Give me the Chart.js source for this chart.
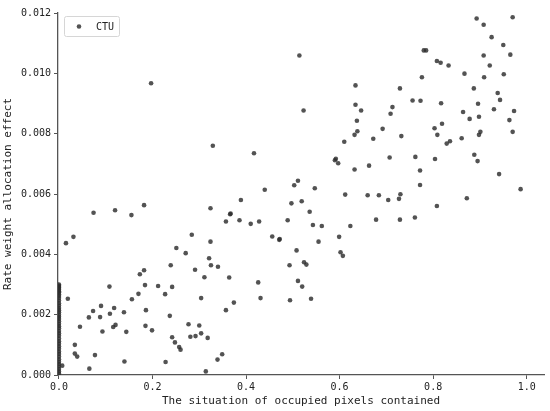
<!DOCTYPE html>
<html>
<head>
<meta charset="utf-8">
<script src="https://cdn.jsdelivr.net/npm/chart.js@4/dist/chart.umd.min.js"></script>
<style>
    html, body { margin: 0; padding: 0; background: #fff; }
    #wrap { width: 550px; height: 411px; }
</style>
</head>
<body>
<div id="wrap"><canvas id="scatterChart" width="550" height="411"></canvas></div>
<script>
// CTU points
// column of points sitting on x = 0
const zeroColumnY = [0.00300, 0.00296, 0.00292, 0.00288, 0.00283, 0.00278, 0.00274, 0.00268, 0.00262, 0.00255,
    0.00247, 0.00238, 0.00230, 0.00222, 0.00215, 0.00208, 0.00200, 0.00193, 0.00186, 0.00178,
    0.00170, 0.00162, 0.00155, 0.00146, 0.00138, 0.00130, 0.00121, 0.00112, 0.00104, 0.00095,
    0.00087, 0.00078, 0.00070, 0.00061, 0.00052, 0.00044, 0.00036, 0.00028, 0.00020, 0.00012, 0.00005]

const ctuX = [0.015, 0.019, 0.034, 0.034, 0.039, 0.045, 0.007, 0.065, 0.064, 0.073,
    0.077, 0.088, 0.090, 0.093, 0.108, 0.109, 0.116, 0.118, 0.121, 0.139,
    0.140, 0.144, 0.156, 0.170, 0.173, 0.182, 0.184, 0.186, 0.185, 0.199,
    0.212, 0.227, 0.228, 0.237, 0.239, 0.242, 0.242, 0.248, 0.251, 0.257,
    0.260, 0.271, 0.277, 0.281, 0.291, 0.292, 0.300, 0.304, 0.304, 0.311,
    0.314, 0.318, 0.321, 0.324, 0.325, 0.340, 0.339, 0.357, 0.364, 0.374,
    0.349, 0.426, 0.431, 0.471, 0.493, 0.494, 0.508, 0.511, 0.520, 0.524,
    0.529, 0.539, 0.555, 0.602, 0.607, 0.031, 0.074, 0.120, 0.155, 0.182,
    0.284, 0.324, 0.329, 0.523, 0.634, 0.646, 0.637, 0.638, 0.632, 0.672,
    0.610, 0.417, 0.592, 0.590, 0.597, 0.632, 0.663, 0.511, 0.503, 0.547,
    0.440, 0.612, 0.660, 0.684, 0.389, 0.519, 0.497, 0.536, 0.366, 0.367,
    0.357, 0.386, 0.410, 0.428, 0.489, 0.543, 0.562, 0.623, 0.678, 0.456,
    0.472, 0.599, 0.713, 0.709, 0.756, 0.773, 0.817, 0.896, 0.943, 0.864,
    0.930, 0.973, 0.878, 0.898, 0.963, 0.819, 0.803, 0.692, 0.809, 0.901,
    0.898, 0.970, 0.732, 0.861, 0.836, 0.829, 0.888, 0.895, 0.707, 0.762,
    0.804, 0.772, 0.941, 0.772, 0.987, 0.704, 0.730, 0.727, 0.872, 0.808,
    0.729, 0.761, 0.893, 0.970, 0.908, 0.925, 0.950, 0.780, 0.785, 0.908,
    0.965, 0.808, 0.816, 0.833, 0.921, 0.867, 0.776, 0.909, 0.951, 0.729,
    0.887, 0.938, 0.514, 0.634, 0.197]

const ctuY = [0.00437, 0.00253, 0.00100, 0.00071, 0.00061, 0.00160, 0.00031, 0.00021, 0.00191, 0.00212,
    0.00066, 0.00192, 0.00229, 0.00144, 0.00293, 0.00203, 0.00159, 0.00222, 0.00166, 0.00208,
    0.00045, 0.00143, 0.00251, 0.00269, 0.00334, 0.00347, 0.00298, 0.00215, 0.00163, 0.00148,
    0.00295, 0.00268, 0.00043, 0.00196, 0.00364, 0.00292, 0.00125, 0.00108, 0.00421, 0.00093,
    0.00084, 0.00404, 0.00168, 0.00127, 0.00349, 0.00129, 0.00164, 0.00138, 0.00255, 0.00324,
    0.00012, 0.00123, 0.00387, 0.00442, 0.00364, 0.00359, 0.00051, 0.00215, 0.00323, 0.00240,
    0.00069, 0.00307, 0.00255, 0.00448, 0.00364, 0.00248, 0.00413, 0.00312, 0.00293, 0.00374,
    0.00366, 0.00253, 0.00442, 0.00407, 0.00395, 0.00458, 0.00538, 0.00546, 0.00530, 0.00563,
    0.00465, 0.00553, 0.00760, 0.00877, 0.00896, 0.00877, 0.00843, 0.00808, 0.00796, 0.00783,
    0.00773, 0.00735, 0.00717, 0.00712, 0.00702, 0.00681, 0.00694, 0.00644, 0.00629, 0.00619,
    0.00614, 0.00598, 0.00596, 0.00596, 0.00580, 0.00576, 0.00569, 0.00541, 0.00533, 0.00535,
    0.00509, 0.00513, 0.00501, 0.00509, 0.00513, 0.00497, 0.00494, 0.00494, 0.00515, 0.00459,
    0.00451, 0.00458, 0.00888, 0.00866, 0.00910, 0.00909, 0.00901, 0.00899, 0.00912, 0.00872,
    0.00881, 0.00875, 0.00849, 0.00856, 0.00845, 0.00833, 0.00818, 0.00816, 0.00796, 0.00806,
    0.00796, 0.00806, 0.00792, 0.00785, 0.00775, 0.00767, 0.00730, 0.00709, 0.00721, 0.00723,
    0.00716, 0.00678, 0.00666, 0.00630, 0.00616, 0.00580, 0.00599, 0.00584, 0.00586, 0.00560,
    0.00515, 0.00522, 0.01182, 0.01186, 0.01161, 0.01120, 0.01094, 0.01076, 0.01076, 0.01059,
    0.01062, 0.01041, 0.01035, 0.01026, 0.01026, 0.00999, 0.00987, 0.00987, 0.00997, 0.00950,
    0.00950, 0.00935, 0.01059, 0.00960, 0.00967]

const xTicks = [0, 0.2, 0.4, 0.6, 0.8, 1.0]
const yTicks = [0, 0.002, 0.004, 0.006, 0.008, 0.010, 0.012]

const seriesName = "CTU"
const xTitle = "The situation of occupied pixels contained"
const yTitle = "Rate weight allocation effect"

const pointColor = "rgba(45, 45, 45, 0.82)"
const axisColor = "#555555"
const monoFont = "'DejaVu Sans Mono', 'Liberation Mono', monospace"

let points = []
for (let i = 0; i < zeroColumnY.length; i++) {
    points.push({ x: 0, y: zeroColumnY[i] })
}
for (let i = 0; i < ctuX.length; i++) {
    points.push({ x: ctuX[i], y: ctuY[i] })
}

// legend box drawn inside the plot, top left
const boxLegend = {
    id: "boxLegend",
    afterDraw(chart) {
        const ctx = chart.ctx
        const left = chart.chartArea.left + 6
        const top = chart.chartArea.top + 3
        ctx.save()
        ctx.fillStyle = "rgba(255,255,255,0.9)"
        ctx.strokeStyle = "#d6d6d6"
        ctx.lineWidth = 1
        ctx.beginPath()
        ctx.roundRect(left + 0.5, top + 0.5, 55, 20, 2)
        ctx.fill()
        ctx.stroke()
        ctx.fillStyle = pointColor
        ctx.beginPath()
        ctx.arc(left + 15, top + 10.5, 2.3, 0, Math.PI * 2)
        ctx.fill()
        ctx.fillStyle = "#222"
        ctx.font = "10px " + monoFont
        ctx.textBaseline = "middle"
        ctx.fillText(seriesName, left + 32, top + 11)
        ctx.restore()
    }
}

Chart.defaults.color = "#222"
Chart.defaults.font.family = monoFont

const scatterConfig = {
    type: "scatter",
    data: {
        datasets: [{
            label: seriesName,
            data: points,
            backgroundColor: pointColor,
            borderWidth: 0,
            pointRadius: 2.3,
            pointHoverRadius: 2.3
        }]
    },
    options: {
        responsive: false,
        animation: false,
        layout: { padding: { top: 13, right: 6, left: 0, bottom: 0 } },
        plugins: {
            legend: { display: false },
            tooltip: { enabled: false }
        },
        scales: {
            x: {
                type: "linear",
                min: -0.002,
                max: 1.037,
                afterBuildTicks: (scale) => { scale.ticks = xTicks.map(v => ({ value: v })) },
                afterFit: (scale) => { scale.height = 36 },
                ticks: {
                    font: { size: 10 },
                    padding: 2,
                    callback: (v) => v.toFixed(1)
                },
                grid: { drawOnChartArea: false, tickLength: 4, color: axisColor, lineWidth: 1 },
                border: { color: axisColor, width: 1.3 },
                title: { display: true, text: xTitle, font: { size: 11 }, padding: { top: 0, bottom: 3 } }
            },
            y: {
                type: "linear",
                min: 0,
                max: 0.012,
                afterBuildTicks: (scale) => { scale.ticks = yTicks.map(v => ({ value: v })) },
                afterFit: (scale) => { scale.width = 58 },
                ticks: {
                    font: { size: 10 },
                    padding: 3,
                    callback: (v) => v.toFixed(3)
                },
                grid: { drawOnChartArea: false, tickLength: 4, color: axisColor, lineWidth: 1 },
                border: { color: axisColor, width: 1.3 },
                title: { display: true, text: yTitle, font: { size: 11 }, padding: { top: 2, bottom: 0 } }
            }
        }
    },
    plugins: [boxLegend]
}

const scatterChart = new Chart(document.getElementById("scatterChart"), scatterConfig)
</script>
</body>
</html>
